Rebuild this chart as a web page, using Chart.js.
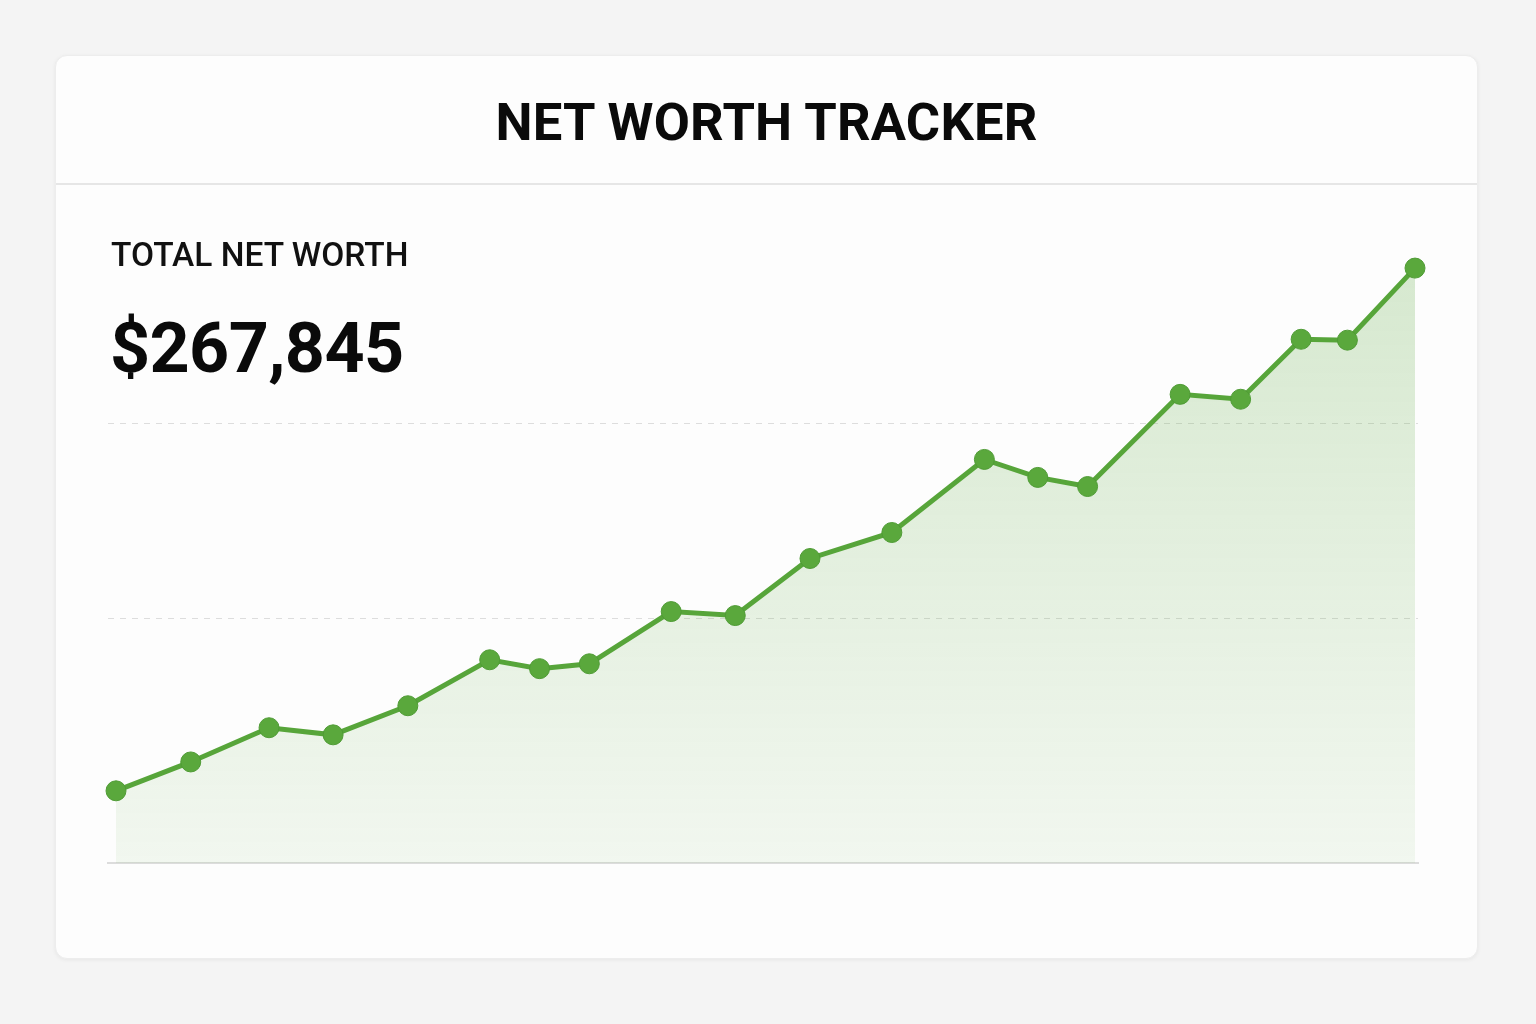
<!DOCTYPE html>
<html>
<head>
<meta charset="utf-8">
<title>Net Worth Tracker</title>
<script src="https://cdn.jsdelivr.net/npm/chart.js@4.4.1/dist/chart.umd.min.js"></script>
<style>
    html, body { margin: 0; padding: 0; }
    body {
        width: 1536px;
        height: 1024px;
        background: #f4f4f4;
        font-family: Roboto, "Noto Sans", sans-serif;
        position: relative;
        overflow: hidden;
    }
    .card {
        position: absolute;
        left: 55px;
        top: 55px;
        width: 1423px;
        height: 904px;
        background: #fdfdfd;
        border-radius: 12px;
        box-shadow: 0 1px 4px rgba(0, 0, 0, 0.06);
        border: 1px solid #ededed;
        box-sizing: border-box;
    }
    .header {
        height: 129px;
        border-bottom: 2px solid #e6e6e6;
        box-sizing: border-box;
        text-align: center;
    }
    .header h1 {
        margin: 0;
        padding-top: 34px;
        font-size: 52.5px;
        font-weight: 700;
        color: #0a0a0a;
        letter-spacing: 0.2px;
        line-height: 64px;
    }
    .label {
        position: absolute;
        left: 111px;
        top: 235px;
        font-size: 33.5px;
        font-weight: 500;
        color: #111;
        line-height: 40px;
    }
    .total {
        position: absolute;
        left: 110px;
        top: 306px;
        font-size: 70px;
        font-weight: 700;
        color: #0a0a0a;
        letter-spacing: -0.6px;
        line-height: 84px;
    }
    .chart-box {
        position: absolute;
        left: 88px;
        top: 190px;
        width: 1350px;
        height: 694px;
    }
</style>
</head>
<body>
<div class="card">
    <div class="header"><h1>NET WORTH TRACKER</h1></div>
</div>
<div class="chart-box"><canvas id="netWorthChart"></canvas></div>
<div class="label">TOTAL NET WORTH</div>
<div class="total">$267,845</div>

<script>
// dias desde o inicio do periodo
const dayOffsets = [0, 21, 43, 61, 82, 105, 119, 133, 156, 174, 195, 218, 244, 259, 273, 299, 316, 333, 346, 365];
// patrimonio liquido em dolares
const netWorth = [32500, 45500, 60900, 57700, 70800, 91500, 87500, 89700, 113200, 111400,
    137100, 148800, 181700, 173600, 169500, 211000, 208800, 235800, 235400, 267845];
// linhas de grade (tracejadas)
const gridTicks = [110000, 198000];

const lineColor = '#57a53a';

function renderChart() {
    const ctx = document.getElementById('netWorthChart').getContext('2d');
    const points = dayOffsets.map((d, i) => ({ x: d, y: netWorth[i] }));

    new Chart(ctx, {
        type: 'line',
        data: {
            datasets: [{
                label: 'Net Worth',
                data: points,
                borderColor: lineColor,
                borderWidth: 5,
                pointRadius: 10,
                pointHoverRadius: 10,
                pointBackgroundColor: '#5aa83c',
                pointBorderColor: '#4f9b35',
                pointBorderWidth: 1,
                tension: 0,
                clip: false,
                fill: 'origin',
                backgroundColor: function(context) {
                    const area = context.chart.chartArea;
                    if (!area) return 'rgba(90, 168, 60, 0.15)';
                    const g = context.chart.ctx.createLinearGradient(0, area.top, 0, area.bottom);
                    g.addColorStop(0, 'rgba(90, 168, 60, 0.25)');
                    g.addColorStop(1, 'rgba(90, 168, 60, 0.07)');
                    return g;
                }
            }]
        },
        options: {
            responsive: true,
            maintainAspectRatio: false,
            animation: false,
            layout: { padding: { left: 20, right: 20, top: 20, bottom: 21 }, autoPadding: false },
            plugins: {
                legend: { display: false },
                tooltip: { enabled: false }
            },
            scales: {
                x: {
                    type: 'linear',
                    min: -2.25,
                    max: 365.84,
                    ticks: { display: false },
                    grid: { display: false, drawTicks: false },
                    border: { display: true, color: '#dcdcdc', width: 2 }
                },
                y: {
                    min: 0,
                    max: 294000,
                    afterBuildTicks: function(axis) {
                        axis.ticks = gridTicks.map(v => ({ value: v }));
                    },
                    ticks: { display: false },
                    grid: { color: '#dddddd', lineWidth: 1, drawTicks: false },
                    border: { display: false, dash: [6, 6] }
                }
            }
        }
    });
}

renderChart();
</script>
</body>
</html>
